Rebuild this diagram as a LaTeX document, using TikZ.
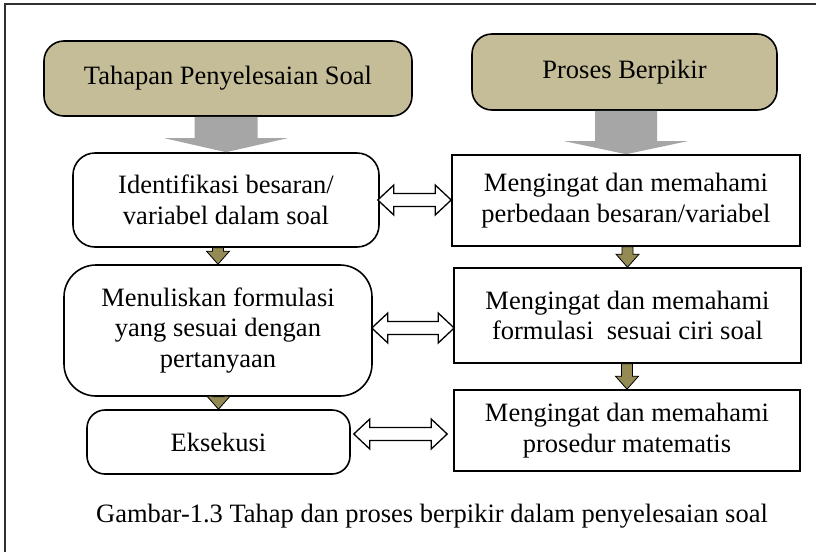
\documentclass[tikz,border=0pt]{standalone}
\usepackage{fontspec}
\setmainfont{Liberation Serif}
\usetikzlibrary{calc}

\definecolor{headtan}{HTML}{C4BD97}
\definecolor{oliveink}{HTML}{948A54}
\definecolor{grayarrow}{HTML}{A6A6A6}
\definecolor{framegray}{HTML}{303030}

% vertical block arrow: style, from node, to node, shaft half width, head half width, head length
\newcommand\vblockarrow[6]{%
  \path[#1] let \p1=(#2.south), \p2=(#3.north) in
    (\x2-#4pt,\y1) -- (\x2-#4pt,\y2+#6pt) -- (\x2-#5pt,\y2+#6pt) -- (\x2,\y2)
    -- (\x2+#5pt,\y2+#6pt) -- (\x2+#4pt,\y2+#6pt) -- (\x2+#4pt,\y1) -- cycle;}

% horizontal two-headed hollow arrow: left node, right node, height, left gap, right gap
\newcommand\hdoublearrow[5]{%
  \path[dblarrow] let \p1=(#1.east), \p2=(#2.west), \p3=(0,#3),
      \n1={\x1+#4pt}, \n2={\x2-#5pt} in
    (\n1,\y3) -- (\n1+16pt,\y3+15pt) -- (\n1+16pt,\y3+6.5pt) -- (\n2-16pt,\y3+6.5pt)
    -- (\n2-16pt,\y3+15pt) -- (\n2,\y3) -- (\n2-16pt,\y3-15pt) -- (\n2-16pt,\y3-6.5pt)
    -- (\n1+16pt,\y3-6.5pt) -- (\n1+16pt,\y3-15pt) -- cycle;}

\tikzset{
  txt/.style={font=\fontsize{26.5}{30.5}\selectfont, align=center, inner sep=0pt},
  headbox/.style={txt, draw=black, line width=1.6pt, fill=headtan, rounded corners=20pt},
  stagebox/.style={txt, draw=black, line width=1.6pt, fill=white},
  thinkbox/.style={txt, draw=black, line width=1.6pt, fill=white},
  bigarrow/.style={fill=grayarrow},
  smallarrow/.style={fill=oliveink, draw=black, line width=0.8pt, line join=miter},
  dblarrow/.style={fill=white, draw=black, line width=1.3pt, line join=miter},
}

\begin{document}
\begin{tikzpicture}[x=1pt,y=-1pt]
\useasboundingbox (0,0) rectangle (816,552);
\fill[white] (0,0) rectangle (816,552);

% outer frame
\draw[framegray, line width=2pt] (5,552) -- (5,4) -- (816,4);

% column headings
\node[headbox, minimum width=368pt, minimum height=75pt] (h1) at (228,78.5) {Tahapan Penyelesaian Soal};
\node[headbox, minimum width=305pt, minimum height=76pt] (h2) at (624.5,72) {Proses Berpikir};

% stages of solving
\node[stagebox, rounded corners=22pt, minimum width=306pt, minimum height=94pt] (l1) at (226,200)
  {Identifikasi besaran/\\variabel dalam soal};
\node[stagebox, rounded corners=32pt, minimum width=308pt, minimum height=131pt] (l2) at (218,330.5)
  {Menuliskan formulasi\\yang sesuai dengan\\pertanyaan};
\node[stagebox, rounded corners=18pt, minimum width=263pt, minimum height=64pt] (l3) at (218.5,442)
  {Eksekusi};

% thinking processes
\node[thinkbox, minimum width=348pt, minimum height=91pt] (r1) at (626,200.5)
  {Mengingat dan memahami\\perbedaan besaran/variabel};
\node[thinkbox, minimum width=347pt, minimum height=95pt] (r2) at (627.5,315.5)
  {Mengingat dan memahami\\formulasi~ sesuai ciri soal};
\node[thinkbox, minimum width=346pt, minimum height=81pt] (r3) at (627,430.5)
  {Mengingat dan memahami\\prosedur matematis};

% heading arrows
\vblockarrow{bigarrow}{h1}{l1}{31.5}{61.5}{14}
\vblockarrow{bigarrow}{h2}{r1}{31}{61.5}{13}

% flow arrows
\vblockarrow{smallarrow}{l1}{l2}{5.5}{11.5}{13}
\vblockarrow{smallarrow}{l2}{l3}{5.5}{11.5}{13}
\vblockarrow{smallarrow}{r1}{r2}{5.5}{11.5}{13}
\vblockarrow{smallarrow}{r2}{r3}{5.5}{11.5}{13}

% links between stages and processes
\hdoublearrow{l1}{r1}{200}{-2}{0}
\hdoublearrow{l2}{r2}{328}{-1}{-1}
\hdoublearrow{l3}{r3}{434}{3}{6}

% caption
\node[txt] (cap) at (432,516) {Gambar-1.3 Tahap dan proses berpikir dalam penyelesaian soal};
\end{tikzpicture}
\end{document}
